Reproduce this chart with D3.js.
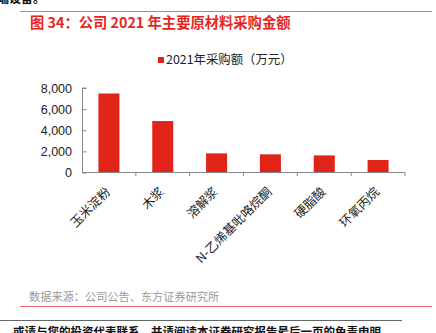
<!DOCTYPE html>
<html><head><meta charset="utf-8">
<script src="https://cdn.jsdelivr.net/npm/d3@7/dist/d3.min.js"></script>
<style>
html,body{margin:0;padding:0;background:#fff;overflow:hidden;}
svg{display:block;font-family:"Noto Sans CJK SC",sans-serif;}
</style></head>
<body><svg id="c" width="436" height="333"></svg>
<script>
const categories = ["玉米淀粉","木浆","溶解浆","N-乙烯基吡咯烷酮","硬脂酸","环氧丙烷"];
const values = [7480, 4870, 1810, 1720, 1620, 1180];
const yTicks = [0, 2000, 4000, 6000, 8000];
const seriesName = "2021年采购额（万元）";
const title = "图 34：公司 2021 年主要原材料采购金额";
const source = "数据来源：公司公告、东方证券研究所";

const svg = d3.select("#c");
const red = "#e2231a";
const cjk = "'Noto Sans CJK SC',sans-serif";
const lat = "'Liberation Sans',Arial,sans-serif";

svg.append("text").attr("x", -3).attr("y", 3).attr("font-size", 12).attr("font-weight", "bold")
  .attr("fill", "#111").attr("font-family", cjk).text("端设备。");
svg.append("line").attr("x1", 20).attr("x2", 432).attr("y1", 11.5).attr("y2", 11.5)
  .attr("stroke", "#e8706a").attr("stroke-width", 1);
svg.append("text").attr("x", 30).attr("y", 28).attr("font-size", 14.3).attr("font-weight", "bold")
  .attr("fill", "#e8251f").attr("font-family", cjk).text(title);

svg.append("rect").attr("x", 158).attr("y", 57).attr("width", 6).attr("height", 6).attr("fill", red);
svg.append("text").attr("x", 166).attr("y", 64).attr("font-size", 12.4).attr("fill", "#222")
  .attr("font-family", cjk).text(seriesName);

const x = d3.scaleBand().domain(categories).range([82, 405]).paddingInner(0.61).paddingOuter(0.305);
const xb = d3.scaleBand().domain(categories).range([82, 405]);
const y = d3.scaleLinear().domain([0, 8000]).range([172.5, 88]);

svg.selectAll("rect.bar").data(values).join("rect").attr("class", "bar")
  .attr("x", (d, i) => x(categories[i])).attr("width", x.bandwidth())
  .attr("y", d => y(d)).attr("height", d => y(0) - y(d)).attr("fill", red);

const ya = svg.append("g").attr("transform", "translate(82.5,0)")
  .call(d3.axisRight(y).tickValues(yTicks).tickSize(4).tickFormat(""));
ya.select(".domain").attr("stroke", "#888").attr("d", `M4,${y(8000)}H0V${y(0)}`);
ya.selectAll(".tick line").attr("stroke", "#888");
svg.selectAll("text.yl").data(yTicks).join("text").attr("class", "yl")
  .attr("x", 72).attr("y", d => y(d) + 4.5).attr("text-anchor", "end")
  .attr("font-size", 12.5).attr("fill", "#222").attr("font-family", lat)
  .text(d => d3.format(",")(d));

const xa = svg.append("g").attr("transform", `translate(0,${y(0)})`);
xa.append("line").attr("x1", 82).attr("x2", 405).attr("stroke", "#888");
xa.selectAll("line.t").data(categories).join("line").attr("class", "t")
  .attr("x1", d => xb(d) + xb.bandwidth()).attr("x2", d => xb(d) + xb.bandwidth())
  .attr("y1", 0).attr("y2", 3.5).attr("stroke", "#888");
xa.selectAll("text").data(categories).join("text")
  .attr("transform", d => `translate(${xb(d) + xb.bandwidth() / 2 - 1},17) rotate(-45)`)
  .attr("text-anchor", "end").attr("dy", "0.35em")
  .attr("font-size", 12.5).attr("fill", "#222").attr("font-family", cjk).text(d => d);

svg.append("text").attr("x", 29).attr("y", 301).attr("font-size", 11.2).attr("fill", "#9a9a9a")
  .attr("font-family", cjk).text(source);
svg.append("line").attr("x1", 20).attr("x2", 432).attr("y1", 306.5).attr("y2", 306.5)
  .attr("stroke", "#e8706a").attr("stroke-width", 1);
svg.append("line").attr("x1", 0).attr("x2", 402).attr("y1", 320.5).attr("y2", 320.5)
  .attr("stroke", "#666").attr("stroke-width", 1);
svg.append("text").attr("x", 13).attr("y", 336).attr("font-size", 11.5).attr("font-weight", "bold")
  .attr("fill", "#111").attr("font-family", cjk).text("或请与您的投资代表联系，并请阅读本证券研究报告最后一页的免责申明。");
</script></body></html>
